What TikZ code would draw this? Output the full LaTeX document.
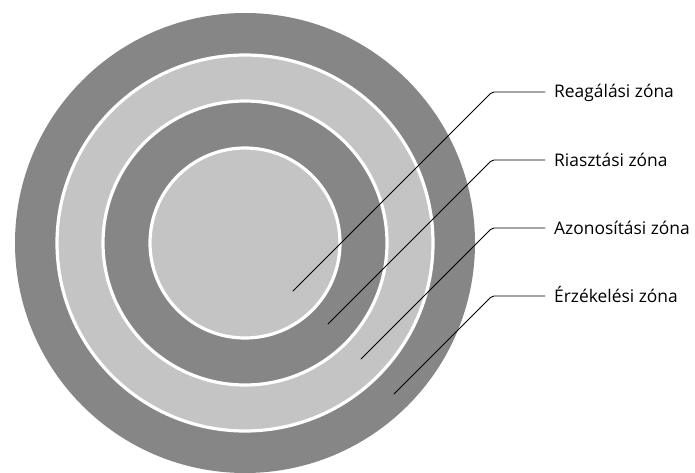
\documentclass[tikz,border=0pt]{standalone}
\usepackage{fontspec}
\setmainfont{Open Sans}
\usepackage{tikz}
\usetikzlibrary{calc}
\definecolor{zonedark}{RGB}{134,134,134}
\definecolor{zonelight}{RGB}{196,196,196}

\begin{document}
\begin{tikzpicture}[x=1pt,y=-1pt,line cap=round,line join=round,
  zonegap/.style={white,line width=3.2pt},
  leader/.style={black,line width=0.9pt,rounded corners=2pt},
  zonelabel/.style={anchor=base west,inner sep=0pt,font=\fontsize{17.4}{20}\selectfont}]
\useasboundingbox (0,0) rectangle (695,473);
\coordinate (C) at (245,243);
% rings, outside in
\fill[zonedark] (C) circle (230pt);
\draw[zonegap,fill=zonelight] (C) circle (188pt);
\draw[zonegap,fill=zonedark] (C) circle (142pt);
\draw[zonegap,fill=zonelight] (C) circle (95pt);
% labels with leaders
\foreach \name/\y/\sx/\txt in {reag/92/293/{Reagálási zóna},
                               riaszt/160/328/{Riasztási zóna},
                               azon/228/361/{Azonosítási zóna},
                               erz/296/394/{Érzékelési zóna}}{
  \coordinate (\name-in) at (\sx,{\y+492-\sx});
  \coordinate (\name-bend) at (492,\y);
  \coordinate (\name-end) at (545,\y);
  \node[zonelabel] (\name) at (554,\y+6) {\txt};
  \draw[leader] (\name-in)--(\name-bend)--(\name-end);
}
\end{tikzpicture}
\end{document}
